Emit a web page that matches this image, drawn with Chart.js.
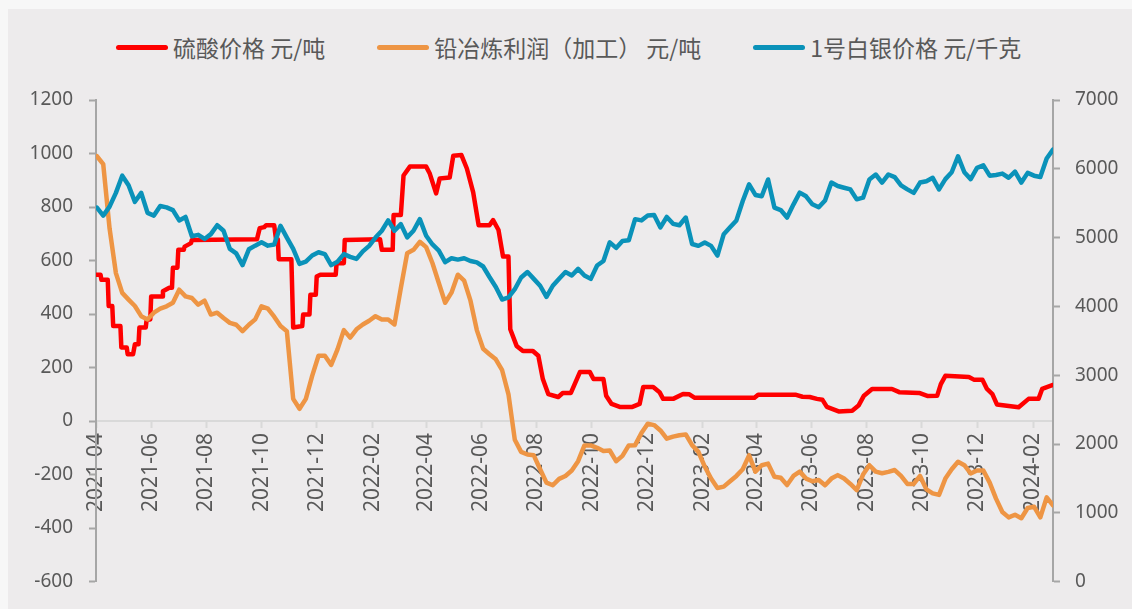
<!DOCTYPE html>
<html>
<head>
  <meta charset="utf-8">
  <title>硫酸价格 / 铅冶炼利润 / 白银价格</title>
  <script src="https://cdn.jsdelivr.net/npm/chart.js"></script>
  <style>
    html, body { margin: 0; padding: 0; background: #f7f7f7; }
    #panel { position: absolute; left: 8px; top: 9px; width: 1124px; height: 600px; background: #edebec; }
    #legend { position: absolute; left: 108px; top: 26px; display: flex; align-items: center;
      font-family: "Noto Sans CJK SC", sans-serif; font-size: 23px; line-height: 24px; color: #595959; white-space: nowrap; }
    .item { display: flex; align-items: center; margin-right: 52px; }
    .swatch { width: 52px; height: 5px; border-radius: 3px; margin-right: 5px; }
    canvas { position: absolute; left: 0; top: 0; }
  </style>
</head>
<body>
  <div id="panel">
    <div id="legend"></div>
    <canvas id="chart" width="1124" height="600"></canvas>
  </div>
  <script>
    // x 轴刻度（每两个月）
    const tickLabels = ['2021-04', '2021-06', '2021-08', '2021-10', '2021-12', '2022-02', '2022-04', '2022-06', '2022-08',
      '2022-10', '2022-12', '2023-02', '2023-04', '2023-06', '2023-08', '2023-10', '2023-12', '2024-02'];

    // 硫酸价格 元/吨（按调价日）
    const acidDates = ['2021-04-01', '2021-04-06', '2021-04-07', '2021-04-14', '2021-04-15', '2021-04-19', '2021-04-20', '2021-04-28',
      '2021-04-29', '2021-05-05', '2021-05-06', '2021-05-12', '2021-05-14', '2021-05-18', '2021-05-19', '2021-05-26', '2021-05-27',
      '2021-05-31', '2021-06-01', '2021-06-13', '2021-06-14', '2021-06-21', '2021-06-24', '2021-06-25', '2021-06-30', '2021-07-01',
      '2021-07-07', '2021-07-08', '2021-07-15', '2021-07-16', '2021-09-26', '2021-09-29', '2021-10-04', '2021-10-06', '2021-10-15',
      '2021-10-17', '2021-10-19', '2021-10-20', '2021-11-03', '2021-11-05', '2021-11-15', '2021-11-16', '2021-11-23', '2021-11-24',
      '2021-11-30', '2021-12-01', '2021-12-05', '2021-12-22', '2021-12-23', '2021-12-31', '2022-01-01', '2022-02-09', '2022-02-11',
      '2022-02-23', '2022-02-24', '2022-03-04', '2022-03-07', '2022-03-14', '2022-04-01', '2022-04-05', '2022-04-12', '2022-04-16',
      '2022-04-27', '2022-05-01', '2022-05-10', '2022-05-16', '2022-05-23', '2022-05-29', '2022-06-10', '2022-06-14', '2022-06-20',
      '2022-06-25', '2022-07-01', '2022-07-03', '2022-07-10', '2022-07-17', '2022-07-28', '2022-08-03', '2022-08-08', '2022-08-14',
      '2022-08-25', '2022-08-30', '2022-09-08', '2022-09-18', '2022-09-29', '2022-10-03', '2022-10-14', '2022-10-17', '2022-10-23',
      '2022-11-01', '2022-11-15', '2022-11-23', '2022-11-27', '2022-12-08', '2022-12-15', '2022-12-19', '2022-12-30', '2023-01-10',
      '2023-01-17', '2023-01-23', '2023-03-30', '2023-04-03', '2023-05-15', '2023-05-22', '2023-05-30', '2023-06-07', '2023-06-13',
      '2023-06-18', '2023-07-01', '2023-07-16', '2023-07-23', '2023-07-29', '2023-08-07', '2023-08-29', '2023-09-06', '2023-09-28',
      '2023-10-07', '2023-10-18', '2023-10-22', '2023-10-27', '2023-11-22', '2023-11-28', '2023-12-07', '2023-12-12', '2023-12-18',
      '2023-12-23', '2024-01-16', '2024-01-27', '2024-02-07', '2024-02-11', '2024-02-23'];
    const acidValues = [547, 547, 528, 528, 430, 430, 355, 355,
      275, 275, 250, 250, 287, 287, 350, 350, 380,
      380, 466, 466, 485, 498, 498, 573, 573, 640,
      640, 652, 665, 677, 680, 721, 725, 732, 732,
      680, 680, 605, 605, 350, 355, 398, 398, 472,
      472, 540, 547, 547, 590, 590, 677, 680, 640,
      640, 770, 770, 918, 951, 951, 925, 851, 907,
      910, 992, 994, 944, 855, 732, 732, 751, 714,
      615, 615, 343, 281, 262, 262, 244, 157, 101,
      90, 105, 105, 183, 183, 157, 157, 95, 64,
      53, 53, 64, 127, 127, 108, 83, 83, 101,
      100, 87, 87, 98, 98, 91, 90, 83, 80,
      53, 36, 39, 58, 95, 120, 120, 108, 105,
      94, 95, 138, 169, 165, 154, 154, 120, 101,
      62, 52, 83, 83, 120, 135];

    // 周度日期（铅冶炼利润、白银价格共用）
    const weeks = [
      '2021-04-02', '2021-04-09', '2021-04-16', '2021-04-23', '2021-04-30', '2021-05-07', '2021-05-14', '2021-05-21', '2021-05-28',
      '2021-06-04', '2021-06-11', '2021-06-18', '2021-06-25', '2021-07-02', '2021-07-09', '2021-07-16', '2021-07-23', '2021-07-30',
      '2021-08-06', '2021-08-13', '2021-08-20', '2021-08-27', '2021-09-03', '2021-09-10', '2021-09-17', '2021-09-24',
      '2021-10-01', '2021-10-08', '2021-10-15', '2021-10-22', '2021-10-29', '2021-11-05', '2021-11-12', '2021-11-19', '2021-11-26',
      '2021-12-03', '2021-12-10', '2021-12-17', '2021-12-24', '2021-12-31',
      '2022-01-07', '2022-01-14', '2022-01-21', '2022-01-28', '2022-02-04', '2022-02-11', '2022-02-18', '2022-02-25',
      '2022-03-04', '2022-03-11', '2022-03-18', '2022-03-25', '2022-04-01', '2022-04-08', '2022-04-15', '2022-04-22', '2022-04-29',
      '2022-05-06', '2022-05-13', '2022-05-20', '2022-05-27', '2022-06-03', '2022-06-10', '2022-06-17', '2022-06-24',
      '2022-07-01', '2022-07-08', '2022-07-15', '2022-07-22', '2022-07-29', '2022-08-05', '2022-08-12', '2022-08-19', '2022-08-26',
      '2022-09-02', '2022-09-09', '2022-09-16', '2022-09-23', '2022-09-30', '2022-10-07', '2022-10-14', '2022-10-21', '2022-10-28',
      '2022-11-04', '2022-11-11', '2022-11-18', '2022-11-25', '2022-12-02', '2022-12-09', '2022-12-16', '2022-12-23', '2022-12-30',
      '2023-01-06', '2023-01-13', '2023-01-20', '2023-01-27', '2023-02-03', '2023-02-10', '2023-02-17', '2023-02-24',
      '2023-03-03', '2023-03-10', '2023-03-17', '2023-03-24', '2023-03-31', '2023-04-07', '2023-04-14', '2023-04-21', '2023-04-28',
      '2023-05-05', '2023-05-12', '2023-05-19', '2023-05-26', '2023-06-02', '2023-06-09', '2023-06-16', '2023-06-23', '2023-06-30',
      '2023-07-07', '2023-07-14', '2023-07-21', '2023-07-28', '2023-08-04', '2023-08-11', '2023-08-18', '2023-08-25',
      '2023-09-01', '2023-09-08', '2023-09-15', '2023-09-22', '2023-09-29', '2023-10-06', '2023-10-13', '2023-10-20', '2023-10-27',
      '2023-11-03', '2023-11-10', '2023-11-17', '2023-11-24', '2023-12-01', '2023-12-08', '2023-12-15', '2023-12-22', '2023-12-29',
      '2024-01-05', '2024-01-12', '2024-01-19', '2024-01-26', '2024-02-02', '2024-02-09', '2024-02-16', '2024-02-23'];

    // 铅冶炼利润（加工） 元/吨
    const profitValues = [
      990, 960, 720, 553, 479, 454, 430, 392, 380, 405,
      420, 429, 442, 491, 466, 460, 435, 450, 398, 405,
      385, 367, 360, 336, 360, 380, 429, 420, 390, 355,
      336, 83, 46, 83, 169, 244, 244, 210, 268, 340,
      312, 343, 361, 375, 392, 380, 380, 361, 497, 627,
      640, 670, 650, 590, 516, 442, 480, 547, 525, 450,
      340, 270, 250, 231, 190, 100, -70, -115, -125, -128,
      -180, -230, -240, -216, -205, -185, -150, -91, -91, -100,
      -112, -110, -150, -130, -91, -90, -45, -10, -15, -35,
      -66, -58, -53, -50, -90, -115, -170, -215, -250, -245,
      -225, -205, -180, -128, -189, -165, -159, -208, -212, -239,
      -205, -189, -215, -225, -220, -240, -215, -202, -215, -235,
      -258, -200, -165, -189, -195, -190, -183, -205, -235, -235,
      -205, -255, -270, -276, -215, -180, -152, -165, -196, -185,
      -185, -230, -290, -340, -360, -350, -363, -325, -320, -360,
      -285, -315];

    // 1号白银价格 元/千克
    const silverValues = [
      5436, 5320, 5450, 5650, 5900, 5760, 5520, 5650, 5360, 5320,
      5460, 5440, 5400, 5250, 5300, 5020, 5040, 4980, 5050, 5180,
      5100, 4835, 4770, 4600, 4830, 4883, 4931, 4883, 4900, 5171,
      5000, 4835, 4618, 4650, 4740, 4787, 4760, 4600, 4650, 4760,
      4720, 4690, 4800, 4880, 5000, 5100, 5250, 5100, 5196, 5003,
      5100, 5268, 5027, 4900, 4810, 4643, 4700, 4680, 4700, 4660,
      4640, 4580, 4427, 4282, 4100, 4130, 4250, 4420, 4499, 4400,
      4300, 4138, 4300, 4402, 4499, 4450, 4546, 4450, 4400, 4594,
      4660, 4931, 4850, 4950, 4960, 5268, 5250, 5320, 5330, 5148,
      5300, 5200, 5180, 5292, 4907, 4880, 4930, 4880, 4738, 5050,
      5150, 5250, 5532, 5773, 5620, 5600, 5845, 5436, 5400, 5292,
      5480, 5653, 5600, 5484, 5440, 5540, 5800, 5750, 5725, 5700,
      5556, 5580, 5845, 5917, 5800, 5917, 5880, 5760, 5701, 5650,
      5800, 5820, 5869, 5700, 5850, 5950, 6181, 5950, 5850, 6014,
      6050, 5900, 5910, 5930, 5870, 5960, 5800, 5941, 5900, 5880,
      6150, 6280];

    const T0 = Date.UTC(2021, 3, 1);
    function day(s) {
      const p = s.split('-').map(Number);
      return (Date.UTC(p[0], p[1] - 1, p[2] || 1) - T0) / 864e5;
    }
    const pts = (dates, vals) => dates.map((d, i) => ({ x: day(d), y: vals[i] }));

    const tickFont = { family: '"Noto Sans", sans-serif', size: 19 };
    const grey = '#595959';

    const chart = new Chart(document.getElementById('chart'), {
      type: 'line',
      data: {
        datasets: [
          { label: '硫酸价格 元/吨', data: pts(acidDates, acidValues), borderColor: '#ff0000', backgroundColor: '#ff0000', yAxisID: 'y', order: 3 },
          { label: '铅冶炼利润（加工） 元/吨', data: pts(weeks, profitValues), borderColor: '#ee9544', backgroundColor: '#ee9544', yAxisID: 'y', order: 2 },
          { label: '1号白银价格 元/千克', data: pts(weeks, silverValues), borderColor: '#0a92b9', backgroundColor: '#0a92b9', yAxisID: 'y1', order: 1 }
        ]
      },
      options: {
        responsive: false,
        animation: false,
        layout: { padding: { top: 91, bottom: 24, left: 0, right: 0 } },
        elements: {
          point: { radius: 0 },
          line: { borderWidth: 4.5, tension: 0, borderJoinStyle: 'round', borderCapStyle: 'round' }
        },
        plugins: { legend: { display: false }, tooltip: { enabled: false } },
        scales: {
          x: {
            type: 'linear',
            position: { y: 0 },
            min: 0,
            max: 1058,
            afterBuildTicks: s => { s.ticks = tickLabels.map(l => ({ value: day(l) })); },
            ticks: {
              callback: (v, i) => tickLabels[i],
              autoSkip: false, minRotation: 90, maxRotation: 90,
              padding: 6, color: grey, font: { family: '"Noto Sans", sans-serif', size: 21 }
            },
            grid: { drawOnChartArea: false, tickLength: 6, tickColor: '#d9d9d9', tickWidth: 2 },
            border: { color: '#d9d9d9', width: 2 }
          },
          y: {
            position: 'left',
            min: -600, max: 1200,
            afterFit: s => { s.width = 88; },
            ticks: { stepSize: 200, padding: 16, color: grey, font: tickFont, callback: v => String(v) },
            grid: { drawOnChartArea: false, tickLength: 7, tickColor: '#a6a6a6', tickWidth: 2 },
            border: { color: '#a6a6a6', width: 2 }
          },
          y1: {
            position: 'right',
            min: 0, max: 7000,
            afterFit: s => { s.width = 79; },
            ticks: { stepSize: 1000, padding: 15, color: grey, font: tickFont, callback: v => String(v) },
            grid: { drawOnChartArea: false, tickLength: 7, tickColor: '#a6a6a6', tickWidth: 2 },
            border: { color: '#a6a6a6', width: 2 }
          }
        }
      }
    });

    // 图例
    const legend = document.getElementById('legend');
    chart.data.datasets.forEach(ds => {
      const item = document.createElement('div');
      item.className = 'item';
      const sw = document.createElement('span');
      sw.className = 'swatch';
      sw.style.background = ds.borderColor;
      const txt = document.createElement('span');
      txt.textContent = ds.label;
      item.appendChild(sw);
      item.appendChild(txt);
      legend.appendChild(item);
    });
  </script>
</body>
</html>
